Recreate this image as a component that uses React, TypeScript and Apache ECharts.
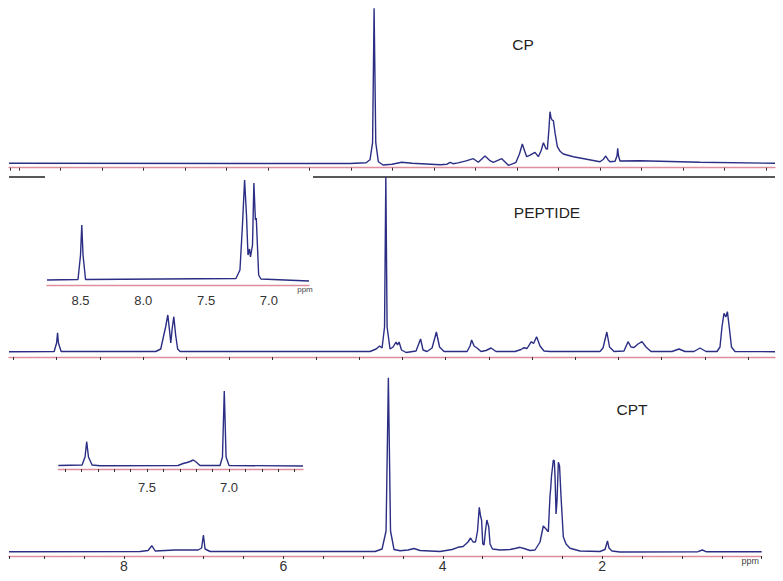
import { useEffect, useRef } from 'react';
import * as echarts from 'echarts';

// [ppm, signal height] (main spectra on the bottom ppm scale)
const cpSpectrum: [number, number][] = [
  [9.44, 4.4], [5.162, 4.2], [4.962, 5], [4.912, 8], [4.88, 25], [4.861, 159.4], [4.84, 25], [4.808, 6],
  [4.749, 2.7], [4.636, 3.5], [4.514, 5.4], [4.385, 4.5], [4.034, 3.0], [3.946, 3.5], [3.908, 5.4],
  [3.871, 4.0], [3.808, 4.8], [3.708, 6.8], [3.616, 9], [3.554, 5.4], [3.47, 11.7], [3.407, 7],
  [3.366, 5.4], [3.26, 9], [3.177, 2.4], [3.118, 4], [3.081, 5.4], [3.037, 14], [3.002, 23.7],
  [2.974, 17], [2.947, 11], [2.905, 12.5], [2.843, 15.4], [2.801, 11], [2.767, 17], [2.738, 25],
  [2.705, 19], [2.688, 18.4], [2.667, 40], [2.655, 56], [2.642, 50], [2.629, 47.7], [2.613, 47],
  [2.592, 35], [2.563, 21], [2.529, 16.5], [2.488, 13.7], [2.362, 11], [2.028, 6], [1.984, 8.5],
  [1.956, 11.7], [1.927, 8], [1.902, 6], [1.839, 6.5], [1.814, 12], [1.806, 19.4], [1.796, 12],
  [1.777, 6.7], [1.526, 7], [0.774, 5.5], [-0.167, 4.4],
];

const peptideSpectrum: [number, number][] = [
  [9.44, 5.3], [8.874, 5.5], [8.843, 14], [8.831, 24.3], [8.82, 14], [8.786, 5.5], [7.6, 5.5],
  [7.537, 8], [7.476, 30], [7.448, 42], [7.426, 26], [7.411, 14], [7.394, 28], [7.373, 40.3],
  [7.35, 22], [7.325, 8], [7.294, 5.5], [4.912, 5.5], [4.836, 8], [4.792, 11], [4.761, 9],
  [4.73, 30], [4.714, 180], [4.698, 30], [4.661, 8], [4.623, 10], [4.586, 15], [4.567, 12],
  [4.548, 15], [4.517, 7], [4.46, 4.5], [4.335, 6], [4.278, 18], [4.247, 7], [4.197, 5.5],
  [4.134, 9], [4.08, 25], [4.04, 10], [3.984, 5.5], [3.695, 5.5], [3.658, 11], [3.638, 17],
  [3.607, 11], [3.57, 9], [3.52, 5.5], [3.457, 6.5], [3.394, 9], [3.332, 5.5], [3.093, 5.5],
  [3.018, 7.5], [2.981, 9.3], [2.943, 8.5], [2.889, 15.3], [2.861, 13.5], [2.823, 20.3],
  [2.78, 11], [2.73, 6], [2.655, 5.5], [2.028, 5.5], [1.99, 9], [1.942, 25], [1.908, 10],
  [1.852, 5.5], [1.727, 6], [1.676, 15.3], [1.639, 10], [1.601, 9.5], [1.551, 13], [1.501, 15.3],
  [1.451, 10], [1.388, 5.5], [1.125, 5.5], [1.037, 8], [0.962, 5.5], [0.849, 5.5], [0.774, 9],
  [0.698, 5.5], [0.56, 5.5], [0.523, 10], [0.498, 30], [0.473, 43.7], [0.45, 40], [0.43, 45.3],
  [0.404, 28], [0.379, 10], [0.335, 5.5], [-0.167, 5.3],
];

const cptSpectrum: [number, number][] = [
  [9.44, 4.3], [7.796, 4.5], [7.695, 5.5], [7.649, 10.3], [7.607, 5], [7.545, 5.3], [7.357, 6],
  [7.068, 6], [7.024, 8], [7.002, 21], [6.981, 7], [6.918, 4.5], [4.849, 4.5], [4.761, 7],
  [4.711, 25], [4.682, 178.3], [4.655, 25], [4.611, 6.5], [4.535, 5.3], [4.435, 6], [4.36, 7.5],
  [4.285, 5.5], [4.034, 4.5], [3.883, 6.5], [3.808, 8.7], [3.745, 9.5], [3.683, 14], [3.651, 18],
  [3.62, 14], [3.589, 14], [3.564, 25], [3.542, 48.7], [3.526, 40], [3.513, 36], [3.498, 12],
  [3.482, 11], [3.463, 26], [3.447, 36], [3.423, 29.3], [3.407, 12], [3.376, 7], [3.282, 6],
  [3.156, 6.5], [3.081, 7.8], [3.031, 8.7], [2.981, 7.5], [2.905, 5.5], [2.843, 6], [2.78, 14],
  [2.739, 30], [2.705, 27], [2.676, 24.3], [2.655, 60], [2.646, 67.7], [2.636, 80], [2.613, 96],
  [2.601, 95.3], [2.592, 80], [2.579, 42], [2.567, 55], [2.55, 93.7], [2.535, 90], [2.517, 60],
  [2.488, 19.3], [2.454, 12], [2.404, 7.7], [2.278, 5], [2.028, 4.5], [1.965, 6.5], [1.934, 15],
  [1.915, 8], [1.877, 5], [1.777, 4], [0.799, 4.3], [0.745, 6], [0.698, 4.3], [0, 4.3],
];

// insets, on their own ppm scales
const peptideInset: [number, number][] = [
  [8.767, 5], [8.52, 5.5], [8.5, 30], [8.49, 60], [8.48, 30], [8.46, 5.5], [7.262, 6.5],
  [7.23, 15], [7.21, 60], [7.193, 105], [7.178, 70], [7.166, 30], [7.154, 36], [7.146, 28],
  [7.138, 34], [7.13, 40], [7.119, 102], [7.107, 65], [7.1, 67], [7.091, 40], [7.081, 10],
  [7.063, 6], [6.68, 4],
];

const cptInset: [number, number][] = [
  [8.041, 3.5], [7.896, 4], [7.878, 12], [7.868, 27.3], [7.857, 12], [7.835, 4], [7.787, 3.2],
  [7.311, 3.5], [7.28, 5.5], [7.256, 6.5], [7.238, 7.5], [7.218, 9], [7.201, 7], [7.177, 3.5],
  [7.055, 3.5], [7.04, 12], [7.029, 78], [7.018, 12], [7.0, 3.5], [6.549, 3],
];

const mainTickLabels = [8, 6, 4, 2];
const peptideInsetLabels = [8.5, 8.0, 7.5, 7.0];
const cptInsetLabels = [7.5, 7.0];
const titles = ['CP', 'PEPTIDE', 'CPT'];

const NAVY = '#2b2e84';
const PINK = '#de8f9e';
const INK = '#231f20';
const FONT = '"Liberation Sans", Arial, Helvetica, sans-serif';

const near = (v: number, list: number[]) => list.find((t) => Math.abs(t - v) < 1e-6);

export default function App() {
  const ref = useRef<HTMLDivElement>(null);
  useEffect(() => {
    if (!ref.current) return;
    const chart = echarts.init(ref.current, undefined, { renderer: 'svg' });

    const grid = (left: number, width: number, top: number, height: number) => ({
      left, width, top, height, containLabel: false, outerBoundsMode: 'none',
    });
    const grids = [
      grid(9, 766, 8, 159.7), // 0 CP data
      grid(10, 756, 8, 159.7), // 1 CP ticks
      grid(9, 766, 177, 180), // 2 peptide data
      grid(13.5, 734.5, 177, 180), // 3 peptide ticks
      grid(9, 766, 376, 180), // 4 CPT data
      grid(9, 752.7, 376, 180), // 5 CPT ticks + labels
      grid(47, 262, 180, 105), // 6 peptide inset data
      grid(80.5, 188.4, 180, 105), // 7 peptide inset labels
      grid(58.3, 244.7, 388, 81), // 8 CPT inset data
      grid(65, 229.6, 388, 81), // 9 CPT inset ticks/labels
    ];
    const hidden = { show: false };
    const dataX = (gridIndex: number, pink: boolean, min: number, max: number) => ({
      type: 'value', gridIndex, min, max, inverse: true,
      axisLine: { show: pink, lineStyle: { color: PINK, width: 1.3 } },
      axisTick: hidden, axisLabel: hidden, splitLine: hidden,
    });
    const tickX = (gridIndex: number, min: number, max: number, interval: number, pink: boolean, label: any) => ({
      type: 'value', gridIndex, min, max, interval, inverse: true,
      axisLine: { show: pink, lineStyle: { color: PINK, width: 1.3 } },
      axisTick: { show: true, length: 3, lineStyle: { color: '#333', width: 1 } },
      axisLabel: label, splitLine: hidden,
    });
    const xAxis = [
      dataX(0, true, -0.167, 9.44),
      tickX(1, 0, 9.11, 0.5, false, hidden),
      dataX(2, true, -0.167, 9.44),
      tickX(3, 0, 8.5, 0.5, false, hidden),
      dataX(4, false, -0.167, 9.44),
      tickX(5, 0, 9.44, 0.5, true, {
        show: true, margin: 3, fontSize: 14, color: '#333', fontFamily: FONT,
        formatter: (v: number) => { const t = near(v, mainTickLabels); return t === undefined ? '' : String(t); },
      }),
      dataX(6, true, 6.68, 8.767),
      {
        type: 'value', gridIndex: 7, min: 7.0, max: 8.5, interval: 0.5, inverse: true,
        axisLine: hidden, axisTick: hidden, splitLine: hidden,
        axisLabel: {
          show: true, margin: 9, fontSize: 13, color: '#333', fontFamily: FONT,
          formatter: (v: number) => { const t = near(v, peptideInsetLabels); return t === undefined ? '' : t.toFixed(1); },
        },
      },
      dataX(8, true, 6.549, 8.041),
      tickX(9, 6.6, 8.0, 0.1, false, {
        show: true, margin: 12, fontSize: 13, color: '#333', fontFamily: FONT,
        formatter: (v: number) => { const t = near(v, cptInsetLabels); return t === undefined ? '' : t.toFixed(1); },
      }),
    ];
    const yAxis = grids.map((g, i) => ({ type: 'value', gridIndex: i, min: 0, max: g.height, show: false }));
    const line = (data: [number, number][], idx: number) => ({
      type: 'line', xAxisIndex: idx, yAxisIndex: idx, data, showSymbol: false, symbol: 'none',
      silent: true, lineStyle: { color: NAVY, width: 1.4 },
    });
    const txt = (text: string, x: number, y: number, size: number, align = 'center', fill = INK) => ({
      type: 'text', x, y, silent: true,
      style: {
        text, fill, font: `${size}px ${FONT}`, align, verticalAlign: 'middle',
        textAlign: align, textVerticalAlign: 'middle',
      },
    });
    const hline = (x1: number, x2: number, y: number) => ({
      type: 'line', silent: true, shape: { x1, y1: y, x2, y2: y },
      style: { stroke: INK, lineWidth: 1.5 },
    });

    chart.setOption({
      animation: false,
      backgroundColor: '#ffffff',
      grid: grids,
      xAxis,
      yAxis,
      series: [
        line(cpSpectrum, 0),
        line(peptideSpectrum, 2),
        line(cptSpectrum, 4),
        line(peptideInset, 6),
        line(cptInset, 8),
      ],
      graphic: [
        hline(9, 45, 177),
        hline(313, 775, 177),
        txt(titles[0], 523, 44, 15.5),
        txt(titles[1], 547, 212.5, 15.5),
        txt(titles[2], 632, 409, 15.5),
        txt('ppm', 759, 561, 9, 'right', '#444'),
        txt('ppm', 305, 289.5, 8, 'center', '#444'),
      ],
    });
    return () => chart.dispose();
  }, []);
  return (
    <div
      ref={ref}
      style={{ position: 'fixed', left: 0, top: 0, width: 783, height: 581, background: '#fff' }}
    />
  );
}
